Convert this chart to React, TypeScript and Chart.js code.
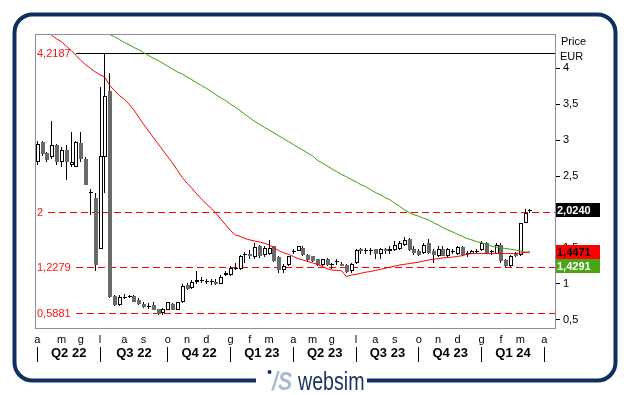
import React, { useEffect, useRef } from 'react';
import { Chart, registerables } from 'chart.js';

Chart.register(...registerables);

const FONT = '"Liberation Sans", Arial, sans-serif';
const GRAY = '#6a6a6a';
const NAVY = '#0f2f5f';

// Weekly candles, first week ends 1 Apr 2022 (index 0) .. week ending 15 Mar 2024 (index 102)
const opens = [
  2.69, 2.97, 2.82, 2.77, 2.93, 2.69, 2.86, 2.66, 2.63, 2.96,
  2.73, 2.28, 2.20, 1.49, 2.76, 3.69, 0.83, 0.71, 0.82, 0.83,
  0.83, 0.77, 0.72, 0.69, 0.70, 0.65, 0.59, 0.64, 0.72, 0.64,
  0.74, 0.98, 0.94, 1.03, 1.05, 1.04, 1.04, 1.03, 1.00, 1.12,
  1.12, 1.22, 1.21, 1.40, 1.41, 1.37, 1.52, 1.40, 1.42, 1.52,
  1.37, 1.19, 1.26, 1.45, 1.46, 1.50, 1.40, 1.38, 1.34, 1.26,
  1.34, 1.28, 1.32, 1.28, 1.26, 1.17, 1.29, 1.48, 1.46, 1.475,
  1.48, 1.42, 1.48, 1.45, 1.47, 1.49, 1.54, 1.62, 1.49, 1.46,
  1.43, 1.56, 1.45, 1.39, 1.49, 1.39, 1.445, 1.41, 1.51, 1.425,
  1.42, 1.45, 1.47, 1.56, 1.45, 1.42, 1.54, 1.33, 1.25, 1.42,
  1.40, 1.85, 2.015,
];
const highs = [
  2.99, 2.99, 2.84, 3.27, 2.95, 2.91, 2.93, 3.11, 2.99, 3.11,
  2.76, 2.32, 2.26, 3.74, 4.2187, 3.94, 0.84, 0.84, 0.86, 0.84,
  0.84, 0.80, 0.75, 0.73, 0.74, 0.65, 0.66, 0.75, 0.73, 0.75,
  0.99, 1.005, 1.05, 1.17, 1.09, 1.07, 1.06, 1.06, 1.12, 1.17,
  1.24, 1.29, 1.40, 1.44, 1.47, 1.57, 1.54, 1.53, 1.61, 1.53,
  1.38, 1.28, 1.39, 1.49, 1.53, 1.52, 1.41, 1.39, 1.35, 1.35,
  1.36, 1.285, 1.35, 1.30, 1.27, 1.29, 1.48, 1.50, 1.50, 1.50,
  1.49, 1.50, 1.50, 1.53, 1.59, 1.59, 1.655, 1.63, 1.52, 1.48,
  1.56, 1.62, 1.48, 1.53, 1.52, 1.50, 1.48, 1.53, 1.52, 1.45,
  1.47, 1.49, 1.59, 1.58, 1.47, 1.56, 1.56, 1.34, 1.40, 1.44,
  1.85, 2.04, 2.04,
];
const lows = [
  2.65, 2.78, 2.70, 2.73, 2.65, 2.63, 2.44, 2.63, 2.62, 2.70,
  2.38, 1.96, 1.17, 1.49, 2.26, 0.80, 0.69, 0.69, 0.78, 0.80,
  0.74, 0.71, 0.66, 0.65, 0.63, 0.56, 0.56, 0.63, 0.63, 0.63,
  0.73, 0.91, 0.92, 1.00, 1.005, 0.99, 0.98, 0.98, 0.99, 1.11,
  1.11, 1.19, 1.19, 1.29, 1.35, 1.35, 1.36, 1.37, 1.40, 1.30,
  1.145, 1.145, 1.25, 1.42, 1.45, 1.38, 1.30, 1.30, 1.24, 1.24,
  1.24, 1.21, 1.26, 1.24, 1.145, 1.145, 1.27, 1.42, 1.41, 1.40,
  1.35, 1.345, 1.42, 1.42, 1.45, 1.47, 1.52, 1.46, 1.40, 1.39,
  1.42, 1.42, 1.29, 1.37, 1.38, 1.37, 1.41, 1.40, 1.39, 1.37,
  1.41, 1.43, 1.45, 1.42, 1.40, 1.41, 1.29, 1.237, 1.237, 1.37,
  1.39, 1.84, 1.98,
];
const closes = [
  2.95, 2.81, 2.72, 2.93, 2.70, 2.86, 2.69, 2.70, 2.97, 2.73,
  2.38, 2.27, 1.26, 2.78, 3.61, 0.82, 0.70, 0.82, 0.81, 0.82,
  0.75, 0.72, 0.68, 0.68, 0.64, 0.58, 0.65, 0.74, 0.64, 0.74,
  0.97, 0.93, 1.03, 1.05, 1.04, 1.04, 1.03, 1.00, 1.10, 1.15,
  1.22, 1.20, 1.39, 1.41, 1.38, 1.51, 1.38, 1.50, 1.50, 1.32,
  1.19, 1.25, 1.38, 1.46, 1.52, 1.40, 1.33, 1.32, 1.26, 1.34,
  1.26, 1.275, 1.31, 1.25, 1.16, 1.28, 1.47, 1.45, 1.47, 1.47,
  1.42, 1.49, 1.45, 1.48, 1.54, 1.56, 1.61, 1.47, 1.43, 1.40,
  1.54, 1.43, 1.40, 1.48, 1.39, 1.48, 1.45, 1.51, 1.40, 1.42,
  1.46, 1.455, 1.56, 1.43, 1.445, 1.54, 1.31, 1.25, 1.39, 1.38,
  1.84, 1.99, 2.024,
];

// Short moving average (red), index 0..102
const maRed = [
  4.60, 4.56, 4.51, 4.46, 4.41, 4.37, 4.31, 4.25, 4.18, 4.11,
  4.05, 4.00, 3.95, 3.91, 3.875, 3.76, 3.69, 3.62, 3.57, 3.50,
  3.42, 3.32, 3.22, 3.13, 3.04, 2.95, 2.86, 2.77, 2.68, 2.58,
  2.48, 2.40, 2.33, 2.25, 2.18, 2.11, 2.05, 1.98, 1.90, 1.82,
  1.74, 1.68, 1.66, 1.63, 1.61, 1.595, 1.58, 1.565, 1.54, 1.50,
  1.46, 1.43, 1.41, 1.38, 1.35, 1.33, 1.31, 1.29, 1.27, 1.24,
  1.21, 1.19, 1.185, 1.18, 1.10, 1.12, 1.13, 1.145, 1.16, 1.17,
  1.185, 1.20, 1.215, 1.23, 1.245, 1.26, 1.27, 1.28, 1.29, 1.30,
  1.315, 1.33, 1.34, 1.35, 1.36, 1.365, 1.37, 1.38, 1.39, 1.41,
  1.42, 1.42, 1.42, 1.42, 1.42, 1.42, 1.42, 1.42, 1.42, 1.42,
  1.425, 1.435, 1.4471,
];
// Long moving average (green), starts at index 10
const greenStart = 10;
const maGreen = [
  4.65, 4.62, 4.58, 4.55, 4.51, 4.47, 4.44, 4.40, 4.36, 4.33,
  4.29, 4.26, 4.22, 4.18, 4.14, 4.11, 4.07, 4.03, 3.99, 3.95,
  3.92, 3.88, 3.84, 3.80, 3.76, 3.72, 3.68, 3.63, 3.59, 3.55,
  3.50, 3.46, 3.41, 3.36, 3.31, 3.26, 3.22, 3.18, 3.14, 3.10,
  3.06, 3.02, 2.98, 2.94, 2.90, 2.86, 2.82, 2.78, 2.72, 2.68,
  2.64, 2.60, 2.56, 2.52, 2.49, 2.45, 2.42, 2.38, 2.35, 2.31,
  2.27, 2.24, 2.20, 2.17, 2.12, 2.08, 2.03, 1.99, 1.96, 1.94,
  1.91, 1.89, 1.85, 1.82, 1.78, 1.75, 1.72, 1.69, 1.66, 1.63,
  1.61, 1.585, 1.57, 1.55, 1.525, 1.51, 1.50, 1.49, 1.48, 1.47,
  1.455, 1.44, 1.4291,
];

const monthTickIdx = [0, 5, 9, 13, 18, 22, 27, 31, 35, 40, 44, 48, 53, 57, 61, 66, 70, 74, 79, 83, 87, 92, 96, 100, 105];
const monthTickLabels = ['a', 'm', 'g', 'l', 'a', 's', 'o', 'n', 'd', 'g', 'f', 'm', 'a', 'm', 'g', 'l', 'a', 's', 'o', 'n', 'd', 'g', 'f', 'm', 'a'];
const quarterStartIdx = [0, 13, 27, 40, 53, 66, 79, 92, 105];
const quarterLabels = ['Q2 22', 'Q3 22', 'Q4 22', 'Q1 23', 'Q2 23', 'Q3 23', 'Q4 23', 'Q1 24'];
const yTicks = [0.5, 1, 1.5, 2, 2.5, 3, 3.5, 4];

const levelValues = [4.2187, 2, 1.2279, 0.5881];
const levelLabels = ['4,2187', '2', '1,2279', '0,5881'];
const levelSolid = [true, false, false, false];

const lastPrice = 2.024;
const lastPriceLabel = '2,0240';
const redLast = 1.4471;
const redLastLabel = '1,4471';
const greenLastLabel = '1,4291';

const X_MIN = -0.48;
const X_MAX = 107.2;
const Y_MIN = 0.383;
const Y_MAX = 4.478;

const candlePlugin = {
  id: 'crispCandles',
  beforeDatasetDraw(chart: any, args: any) {
    const ds = chart.data.datasets[args.index];
    if (ds.type !== 'bar') return;
    const ctx = chart.ctx;
    const area = chart.chartArea;
    ctx.save();
    ctx.beginPath();
    ctx.rect(area.left, area.top, area.right - area.left, area.bottom - area.top);
    ctx.clip();
    const isWick = ds.label === 'wick';
    args.meta.data.forEach((el: any) => {
      const p = el.getProps(['x', 'y', 'base'], true);
      const top = Math.round(Math.min(p.y, p.base));
      const bot = Math.round(Math.max(p.y, p.base));
      const cx = Math.floor(p.x);
      const h = bot - top;
      if (isWick) {
        ctx.fillStyle = el.options.backgroundColor;
        ctx.fillRect(cx, top, 1, Math.max(1, h));
        return;
      }
      const left = cx - 1;
      const w = 4;
      if (h < 2) {
        ctx.fillStyle = '#000';
        ctx.fillRect(left, top, w, 1);
        return;
      }
      ctx.fillStyle = el.options.borderColor;
      ctx.fillRect(left, top, w, h);
      if (el.options.backgroundColor !== el.options.borderColor && h > 2) {
        ctx.fillStyle = el.options.backgroundColor;
        ctx.fillRect(left + 1, top + 1, w - 2, h - 2);
      }
    });
    ctx.restore();
    return false;
  },
};

const decorPlugin = {
  id: 'decor',
  beforeDraw(chart: any) {
    const ctx = chart.ctx;
    ctx.save();
    ctx.fillStyle = '#ffffff';
    ctx.fillRect(0, 0, chart.width, chart.height);
    // outer frame
    ctx.strokeStyle = NAVY;
    ctx.lineWidth = 4;
    ctx.beginPath();
    ctx.roundRect(14.5, 14.5, 601, 366, 18);
    ctx.stroke();
    // gap for logo
    ctx.fillStyle = '#ffffff';
    ctx.fillRect(256, 375, 111, 12);
    // logo dot
    ctx.fillStyle = NAVY;
    ctx.beginPath();
    ctx.arc(269.5, 372, 2, 0, Math.PI * 2);
    ctx.fill();
    // logo mark
    ctx.save();
    ctx.translate(272, 390);
    ctx.scale(0.85, 1);
    ctx.font = 'italic bold 25px ' + FONT;
    ctx.fillStyle = '#a9bad0';
    ctx.textBaseline = 'alphabetic';
    ctx.fillText('/S', 0, 0);
    ctx.restore();
    // logo text
    ctx.save();
    ctx.translate(298, 390);
    ctx.scale(0.755, 1);
    ctx.font = '26px ' + FONT;
    ctx.fillStyle = '#1d3660';
    ctx.textBaseline = 'alphabetic';
    ctx.fillText('websim', 0, 0);
    ctx.restore();
    ctx.restore();
  },
  beforeDatasetsDraw(chart: any) {
    const ctx = chart.ctx;
    const y = chart.scales.y;
    const area = chart.chartArea;
    ctx.save();
    ctx.font = '11px ' + FONT;
    ctx.textBaseline = 'middle';
    ctx.textAlign = 'left';
    levelValues.forEach((v, i) => {
      const py = Math.round(y.getPixelForValue(v)) + 0.5;
      ctx.fillStyle = '#ff1010';
      ctx.fillText(levelLabels[i], 37, py);
      const start = 37 + ctx.measureText(levelLabels[i]).width + 5;
      ctx.beginPath();
      ctx.lineWidth = 1;
      if (levelSolid[i]) {
        ctx.setLineDash([]);
        ctx.strokeStyle = '#000000';
      } else {
        ctx.setLineDash([7, 4]);
        ctx.strokeStyle = '#ff0000';
      }
      ctx.moveTo(Math.round(start), py);
      ctx.lineTo(area.right, py);
      ctx.stroke();
    });
    ctx.restore();
  },
  afterDraw(chart: any) {
    const ctx = chart.ctx;
    const area = chart.chartArea;
    const xs = chart.scales.x;
    const ys = chart.scales.y;
    ctx.save();
    // plot frame
    ctx.strokeStyle = '#8e8ea0';
    ctx.lineWidth = 1;
    ctx.setLineDash([]);
    ctx.strokeRect(area.left + 0.5, area.top + 0.5, area.right - area.left, area.bottom - area.top);
    // quarter separators
    ctx.strokeStyle = '#000';
    quarterStartIdx.forEach((q) => {
      const px = Math.floor(xs.getPixelForValue(q)) + 0.5;
      ctx.beginPath();
      ctx.moveTo(px, 347);
      ctx.lineTo(px, 362);
      ctx.stroke();
    });
    // axis title
    ctx.fillStyle = '#000';
    ctx.font = '11px ' + FONT;
    ctx.textBaseline = 'middle';
    ctx.textAlign = 'left';
    ctx.fillText('Price', 561, 42);
    ctx.fillText('EUR', 560, 57);
    // value boxes
    ctx.font = 'bold 11px ' + FONT;
    const boxX = 556;
    const boxW = 44;
    const boxH = 14;
    const lpTop = Math.round(ys.getPixelForValue(lastPrice) - boxH / 2);
    ctx.fillStyle = '#000000';
    ctx.fillRect(boxX, lpTop, boxW, boxH);
    ctx.fillStyle = '#ffffff';
    ctx.fillText(lastPriceLabel, 557, lpTop + boxH / 2 + 0.5);
    const rTop = Math.round(ys.getPixelForValue(redLast) - boxH / 2);
    ctx.fillStyle = '#ff0000';
    ctx.fillRect(boxX, rTop, boxW, boxH);
    ctx.fillStyle = '#000000';
    ctx.fillText(redLastLabel, 557, rTop + boxH / 2 + 0.5);
    const gTop = rTop + boxH;
    ctx.fillStyle = '#48a514';
    ctx.fillRect(boxX, gTop, boxW, boxH);
    ctx.fillStyle = '#ffffff';
    ctx.fillText(greenLastLabel, 557, gTop + boxH / 2 + 0.5);
    ctx.restore();
  },
};

export default function App() {
  const ref = useRef<HTMLCanvasElement>(null);
  useEffect(() => {
    const canvas = ref.current as HTMLCanvasElement;
    const idx = opens.map((_, i) => i);
    const up = idx.map((i) => closes[i] >= opens[i]);
    const chart = new Chart(canvas, {
      type: 'bar',
      data: {
        datasets: [
          {
            type: 'line',
            label: 'MA short',
            data: maRed.map((v, i) => ({ x: i, y: v })),
            borderColor: '#ff0000',
            borderWidth: 1,
            pointRadius: 0,
            tension: 0,
            xAxisID: 'x',
            yAxisID: 'y',
            order: 0,
          },
          {
            type: 'line',
            label: 'MA long',
            data: maGreen.map((v, i) => ({ x: i + greenStart, y: v })),
            borderColor: '#3f9e0e',
            borderWidth: 1,
            pointRadius: 0,
            tension: 0,
            xAxisID: 'x',
            yAxisID: 'y',
            order: 0,
          },
          {
            type: 'bar',
            label: 'body',
            data: idx.map((i) => ({ x: i, y: [opens[i], closes[i]] })),
            backgroundColor: up.map((u) => (u ? '#ffffff' : GRAY)),
            borderColor: up.map((u) => (u ? '#000000' : GRAY)),
            barThickness: 4,
            grouped: false,
            xAxisID: 'x',
            yAxisID: 'y',
            order: 1,
          },
          {
            type: 'bar',
            label: 'wick',
            data: idx.map((i) => ({ x: i, y: [lows[i], highs[i]] })),
            backgroundColor: '#000000',
            barThickness: 1,
            grouped: false,
            xAxisID: 'x',
            yAxisID: 'y',
            order: 2,
          },
        ] as any,
      },
      options: {
        responsive: false,
        animation: false,
        devicePixelRatio: 1,
        layout: { padding: { left: 35, top: 34, right: 0, bottom: 0 } },
        plugins: { legend: { display: false }, tooltip: { enabled: false } },
        scales: {
          x: {
            type: 'linear',
            position: 'bottom',
            min: X_MIN,
            max: X_MAX,
            bounds: 'data',
            offset: false,
            weight: 1,
            grid: { display: false, drawTicks: false, tickLength: 0, offset: false },
            border: { display: false },
            afterBuildTicks: (s: any) => {
              s.ticks = monthTickIdx.map((v) => ({ value: v }));
            },
            ticks: {
              autoSkip: false,
              maxRotation: 0,
              minRotation: 0,
              padding: 5,
              color: '#000',
              font: { family: FONT, size: 11 },
              callback: (_v: any, i: number) => monthTickLabels[i],
            },
            afterFit: (s: any) => {
              s.height = 17;
            },
          },
          xq: {
            type: 'linear',
            position: 'bottom',
            min: X_MIN,
            max: X_MAX,
            bounds: 'data',
            offset: false,
            weight: 2,
            grid: { display: false, drawTicks: false, tickLength: 0, offset: false },
            border: { display: false },
            afterBuildTicks: (s: any) => {
              s.ticks = quarterLabels.map((_, i) => ({ value: (quarterStartIdx[i] + quarterStartIdx[i + 1]) / 2 }));
            },
            ticks: {
              autoSkip: false,
              maxRotation: 0,
              minRotation: 0,
              padding: 1,
              color: '#000',
              font: { family: FONT, size: 13, weight: 'bold' },
              callback: (_v: any, i: number) => quarterLabels[i],
            },
            afterFit: (s: any) => {
              s.height = 50;
            },
          },
          y: {
            type: 'linear',
            position: 'right',
            min: Y_MIN,
            max: Y_MAX,
            bounds: 'data',
            afterBuildTicks: (s: any) => {
              s.ticks = yTicks.map((v) => ({ value: v }));
            },
            ticks: {
              autoSkip: false,
              padding: 3,
              color: '#000',
              font: { family: FONT, size: 11 },
              callback: (v: any) => String(v).replace('.', ','),
            },
            grid: { drawOnChartArea: false, drawTicks: true, tickLength: 5, tickColor: '#000', color: '#000' },
            border: { display: false },
            afterFit: (s: any) => {
              s.width = 74;
            },
          },
        },
      } as any,
      plugins: [candlePlugin, decorPlugin],
    });
    return () => chart.destroy();
  }, []);
  return (
    <div style={{ position: 'absolute', left: 0, top: 0, width: 629, height: 395, background: '#fff' }}>
      <canvas ref={ref} width={629} height={395} style={{ display: 'block' }} />
    </div>
  );
}
